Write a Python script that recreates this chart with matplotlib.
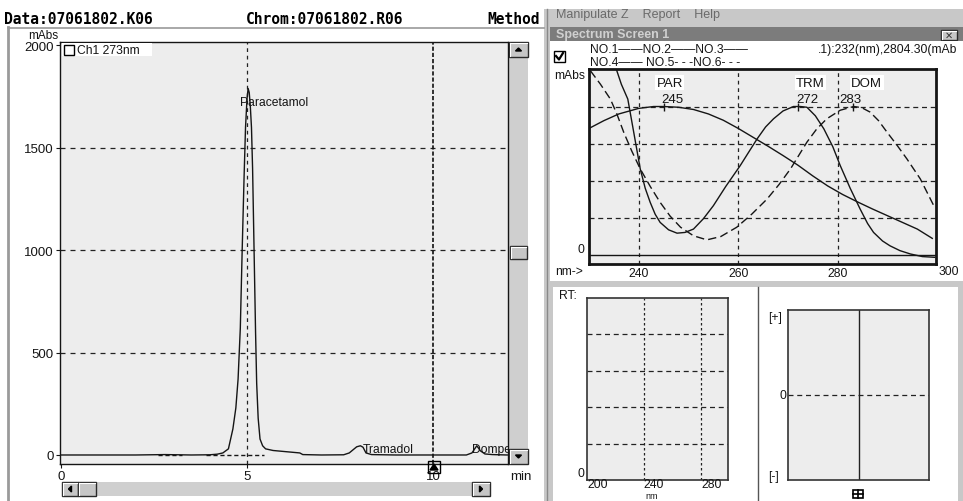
"""
HPLC screen: chromatogram (Ch1 273nm) with the UV spectrum window beside it
"""

import matplotlib
matplotlib.use('Agg')  # no display

import matplotlib.pyplot as plt
from matplotlib.patches import Rectangle, Polygon

W, H = 963, 502

# chromatogram, Ch1 273nm (min / mAbs)
chrom_time = [0.0, 2.0, 2.8, 3.5, 4.0, 4.2, 4.35, 4.5, 4.62, 4.70, 4.76, 4.82, 4.87,
              4.92, 4.96, 5.00, 5.03, 5.06, 5.09, 5.12, 5.15, 5.18, 5.20, 5.23, 5.26,
              5.30, 5.35, 5.42, 5.50, 5.70, 6.00, 6.42, 6.50, 7.00, 7.60, 7.75, 7.85,
              7.95, 8.05, 8.12, 8.20, 8.35, 9.00, 10.90, 11.05, 11.18, 11.28, 11.40,
              11.60, 12.0]
chrom_mabs = [0, 0, 2, 0, 1, 4, 10, 30, 127, 230, 371, 620, 1000,
              1350, 1600, 1740, 1790, 1770, 1700, 1600, 1400, 1100, 900, 600, 350,
              180, 78, 45, 30, 22, 17, 10, 2, 0, 1, 10, 25,
              40, 45, 38, 10, 2, 0, 0, 10, 45, 20, 5,
              2, 0]
base_start = [2.6, 3.9]
base_end = [3.25, 5.45]
chrom_xticks = [0, 5, 10]
chrom_yticks = [0, 500, 1000, 1500, 2000]
peak_names = ['Paracetamol', 'Tramadol', 'Domperidone']

# spectra (nm / scaled mAbs, peak = 4 grid units)
par_nm = [230, 233, 236, 240, 243, 245, 248, 251, 254, 257, 260, 263, 266, 269,
          272, 275, 278, 281, 284, 287, 290, 293, 296, 299]
par_val = [3.41, 3.62, 3.80, 3.95, 4.0, 4.0, 3.98, 3.92, 3.80, 3.63, 3.41, 3.17, 2.93,
           2.68, 2.42, 2.13, 1.86, 1.63, 1.43, 1.24, 1.06, 0.88, 0.70, 0.45]
trm_nm = [235.5, 236.5, 237.8, 239, 240.3, 241.3, 242.3, 243.3, 244.3, 246, 247.7, 249.3,
          251, 253, 255, 257.5, 260.4, 262, 263.8, 265.5, 267.1, 269, 271.1, 272.5, 273.8,
          275.5, 277.2, 279, 280.5, 282.5, 284.5, 286, 287.2, 289, 290.5, 292.5, 294.6,
          297, 299.5]
trm_val = [5.0, 4.6, 4.2, 3.3, 2.32, 1.8, 1.42, 1.1, 0.88, 0.68, 0.59, 0.61,
           0.70, 0.98, 1.33, 1.85, 2.41, 2.75, 3.13, 3.45, 3.67, 3.88, 4.0, 4.0, 3.98,
           3.75, 3.40, 2.92, 2.41, 1.80, 1.24, 0.85, 0.61, 0.38, 0.25, 0.12, 0.03,
           -0.04, -0.06]
dom_nm = [230.3, 232.3, 234.3, 235.6, 237, 238.6, 240.3, 242.3, 244.3, 246.3, 248.4, 251,
          253.7, 256.5, 259.7, 262.7, 265.8, 268.2, 270.5, 273.8, 275.8, 277.8, 280.5,
          283.2, 284.8, 286.5, 288.2, 289.9, 291.9, 293.9, 296.6, 299.3]
dom_val = [4.96, 4.6, 4.2, 3.8, 3.3, 2.8, 2.32, 1.85, 1.42, 1.05, 0.75, 0.52,
           0.41, 0.50, 0.75, 1.10, 1.51, 1.90, 2.32, 3.04, 3.40, 3.67, 3.90,
           4.0, 3.97, 3.85, 3.62, 3.31, 2.96, 2.59, 2.05, 1.33]
spec_names = ['PAR', 'TRM', 'DOM']
spec_peaks = [245, 272, 283]
spec_xticks = [240, 260, 280]
rt_xticks = [200, 240, 280]

plt.rcParams['font.family'] = ['Liberation Sans', 'DejaVu Sans']
INK = '#151515'

fig = plt.figure(figsize=(W / 100, H / 100), dpi=100)


def px_axes(x0, y0, x1, y1, z=1):
    ax = fig.add_axes([x0 / W, 1 - y1 / H, (x1 - x0) / W, (y1 - y0) / H])
    ax.set_zorder(z)
    return ax


def box(ax, x, y, w, h, fc, ec='none', lw=0.8, **kw):
    ax.add_patch(Rectangle((x, y), w, h, facecolor=fc, edgecolor=ec, linewidth=lw, **kw))


def button(ax, x, y, w, h, arrow=None):
    box(ax, x, y, w, h, '#c6c6c6', '#2a2a2a', 1.0)
    ax.plot([x + 1, x + w - 1], [y + 1, y + 1], color='white', lw=0.8)
    ax.plot([x + 1, x + 1], [y + 1, y + h - 1], color='white', lw=0.8)
    cx, cy, s = x + w / 2, y + h / 2, 3
    tri = {'up': [(cx - s, cy + 1.5), (cx + s, cy + 1.5), (cx, cy - 1.5)],
           'down': [(cx - s, cy - 1.5), (cx + s, cy - 1.5), (cx, cy + 1.5)],
           'left': [(cx + 1.5, cy - s), (cx + 1.5, cy + s), (cx - 1.5, cy)],
           'right': [(cx - 1.5, cy - s), (cx - 1.5, cy + s), (cx + 1.5, cy)]}
    if arrow:
        ax.add_patch(Polygon(tri[arrow], closed=True, color='black'))


def pixel_layer(z):
    ax = px_axes(0, 0, W, H, z=z)
    ax.set_xlim(0, W)
    ax.set_ylim(H, 0)
    ax.axis('off')
    ax.patch.set_visible(False)
    return ax


bg = pixel_layer(0)
fg = pixel_layer(20)

# ---------------- window chrome ----------------
mono = dict(family='DejaVu Sans Mono', fontweight='bold', fontsize=10.5, color='black', va='center')
bg.text(4, 19, 'Data:07061802.K06', **mono)
bg.text(246, 19, 'Chrom:07061802.R06', **mono)
bg.text(487, 19, 'Method', **mono)
bg.plot([8, 8], [28, H], color='#9a9a9a', lw=2)
bg.plot([8, 544], [28.5, 28.5], color='#9a9a9a', lw=1.2)

# right hand window
box(bg, 544, 10, W - 544, H - 10, '#c8c8c8')
bg.text(556, 15, 'Manipulate Z    Report    Help', fontsize=9, color='#6a6a6a', va='center')
box(bg, 550, 28, W - 550, 14, '#7c7c7c')
bg.text(556, 35, 'Spectrum Screen 1', fontsize=9, fontweight='bold', color='#d0d0d0', va='center')
button(bg, 941, 30.5, 16, 10)
bg.text(949, 35.5, '\u2715', fontsize=7, ha='center', va='center', color='#333333',
        family='DejaVu Sans')
box(bg, 550, 42, W - 550, 240, 'white')
box(bg, 553, 288, 405, H - 288, 'white')
bg.plot([546.5, 546.5], [10, H], color='#8a8a8a', lw=1)
bg.plot([758, 758], [288, H], color='#555555', lw=1)

# spectrum header
box(bg, 554, 52, 11, 11, 'white', 'black', 1.0)
bg.plot([556, 559, 563], [57, 60.5, 54], color='black', lw=1.6)
small = dict(fontsize=8.7, color=INK, va='center')
bg.text(590, 50, 'NO.1\u2014\u2014NO.2\u2014\u2014NO.3\u2014\u2014', **small)
bg.text(590, 63, 'NO.4\u2014\u2014 NO.5- - -NO.6- - -', **small)
bg.text(818, 50, '.1):232(nm),2804.30(mAb', **small)
bg.text(554, 76, 'mAbs', **small)
bg.text(555, 272, 'nm->', **small)
bg.text(584, 250, '0', ha='right', **small)
bg.text(949, 272, '300', ha='center', **small)

# ---------------- chromatogram ----------------
ax = px_axes(60, 43, 508, 465, z=5)
ax.set_facecolor('#ededed')
ax.set_xlim(-0.03, 12.02)
ax.set_ylim(-44, 2017)
for v in chrom_yticks[1:-1]:
    ax.axhline(v, color='#222222', lw=0.9, dashes=(4, 4))
ax.axvline(5, color='#222222', lw=0.9, dashes=(3, 3))
ax.axvline(10, color='#111111', lw=1.2, dashes=(2.5, 1.2))
ax.plot(chrom_time, chrom_mabs, color=INK, lw=1.0)
for a, b in zip(base_start, base_end):
    ax.plot([a, b], [0, 0], color=INK, lw=1.0, dashes=(3, 2))
ax.text(4.81, 1723, peak_names[0], fontsize=8.7, color=INK, va='center')
ax.text(8.12, 28, peak_names[1], fontsize=8.7, color=INK, va='center')
ax.text(11.05, 28, peak_names[2], fontsize=8.7, color=INK, va='center', clip_on=True)
ax.set_xticks(chrom_xticks)
ax.set_yticks(chrom_yticks)
ax.tick_params(length=3, width=0.8, labelsize=9.5, pad=1.5, colors=INK)
for s in ax.spines.values():
    s.set_linewidth(1.0)
    s.set_color(INK)

fg.text(43, 36, 'mAbs', fontsize=8.5, ha='center', va='center', color=INK)
fg.text(521, 477, 'min', fontsize=9.5, ha='center', va='center', color=INK)
box(fg, 62, 44, 90, 12.5, 'white')
box(fg, 64, 45.5, 10, 10, 'white', 'black', 1.0)
fg.text(77, 50.5, 'Ch1 273nm', fontsize=8.7, va='center', color=INK)
box(fg, 428, 462, 12, 12, 'none', 'black', 1.0)
fg.add_patch(Polygon([(430, 471), (438, 471), (434, 465)], closed=True, color='black'))

# scrollbars
box(bg, 509, 43, 19, 422, '#cfcfcf')
button(bg, 509, 43, 19, 15, 'up')
button(bg, 509, 450, 19, 15, 'down')
button(bg, 510, 247, 17, 13)
box(bg, 62, 483, 428, 14, '#cfcfcf')
button(bg, 62, 483, 16, 14, 'left')
button(bg, 78, 483, 18, 14)
button(bg, 472, 483, 18, 14, 'right')

# ---------------- spectrum window ----------------
sp = px_axes(589, 70, 936, 265, z=5)
sp.set_facecolor('#ededed')
sp.set_xlim(230, 299.75)
sp.set_ylim(-0.24, 5.01)
for v in spec_xticks:
    sp.axvline(v, color='#222222', lw=0.9, dashes=(3, 3))
for v in [1, 2, 3, 4]:
    sp.axhline(v, color='#222222', lw=0.9, dashes=(4, 3))
sp.axhline(0, color=INK, lw=1.0)
sp.plot(par_nm, par_val, color=INK, lw=1.0)
sp.plot(trm_nm, trm_val, color=INK, lw=1.0)
sp.plot(dom_nm, dom_val, color=INK, lw=1.0, dashes=(6, 3))
sp.plot(spec_peaks, [4.0, 4.0, 4.0], ls='none', marker='|', ms=6, mew=1, color=INK)
name_x = [246.2, 274.5, 285.8]
val_x = [246.8, 273.9, 282.6]
for name, pk, nx, vx in zip(spec_names, spec_peaks, name_x, val_x):
    sp.text(nx, 4.64, name, fontsize=9.5, ha='center', va='center', color=INK,
            bbox=dict(facecolor='white', edgecolor='none', pad=1))
    sp.text(vx, 4.2, str(pk), fontsize=9.5, ha='center', va='center', color=INK)
sp.set_xticks(spec_xticks)
sp.set_yticks([])
sp.tick_params(length=0, labelsize=8.7, pad=2, colors=INK)
for s in sp.spines.values():
    s.set_linewidth(2.0)
    s.set_color(INK)

# ---------------- lower panels ----------------
rt = px_axes(587, 299, 728, 481, z=5)
rt.set_facecolor('#ededed')
rt.set_xlim(200, 299)
rt.set_ylim(0, 1)
for v in rt_xticks[1:]:
    rt.axvline(v, color='#222222', lw=0.9, dashes=(2, 2))
for v in [0.2, 0.4, 0.6, 0.8]:
    rt.axhline(v, color='#222222', lw=0.9, dashes=(4, 3))
rt.set_xticks([])
rt.set_yticks([])
for s in rt.spines.values():
    s.set_linewidth(1.2)
    s.set_color('#333333')
fg.text(559, 296, 'RT:', fontsize=8.7, va='center', color=INK)
fg.text(578, 474, '0', fontsize=8.7, va='center', color=INK)
for v, xp in zip(rt_xticks, [587, 643, 701]):
    fg.text(xp, 485.5, str(v), fontsize=8.7, va='center', color=INK)
fg.text(645, 497, 'nm', fontsize=6.5, va='center', color=INK)

pm = px_axes(788, 311, 929, 481, z=5)
pm.set_facecolor('#ededed')
pm.set_xlim(-1, 1)
pm.set_ylim(-1, 1)
pm.axvline(0, color='#222222', lw=1.0)
pm.axhline(0, color='#222222', lw=0.9, dashes=(4, 3))
pm.set_xticks([])
pm.set_yticks([])
for s in pm.spines.values():
    s.set_linewidth(1.2)
    s.set_color('#333333')
fg.text(768, 318, '[+]', fontsize=8.7, va='center', color=INK)
fg.text(779, 396, '0', fontsize=8.7, va='center', color=INK)
fg.text(768, 477, '[-]', fontsize=8.7, va='center', color=INK)
box(fg, 853, 491, 10, 8, 'white', 'black', 1.2)
fg.plot([858, 858], [491, 499], color='black', lw=1.2)
fg.plot([853, 863], [495, 495], color='black', lw=1.2)

plt.savefig('out.png', dpi=100)
plt.close()
